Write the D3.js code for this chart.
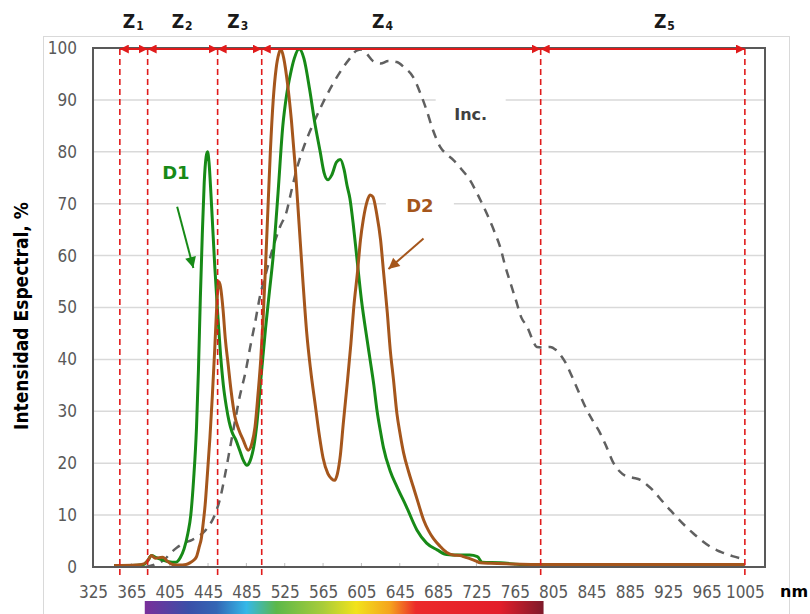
<!DOCTYPE html>
<html>
<head>
<meta charset="utf-8">
<script src="https://cdn.jsdelivr.net/npm/d3@7"></script>
<style>
  body { margin: 0; background: #fff; }
  svg { display: block; }
</style>
</head>
<body>
<div id="chart"></div>
<script>
const width = 810;
const height = 614;

// tick labels
const xTicks = [325, 365, 405, 445, 485, 525, 565, 605, 645, 685, 725, 765, 805, 845, 885, 925, 965, 1005];
const yTicks = [0, 10, 20, 30, 40, 50, 60, 70, 80, 90, 100];

// zone limits (nm) and labels
const zoneBounds = [353, 382, 455, 501, 792, 1005];
const zoneSubs = ["1", "2", "3", "4", "5"];
const zoneLabelNm = [367, 418, 476, 627, 921];

// visible spectrum strip (nm)
const spectrumRange = [379, 795];

// D1 spectrum [nm, %]
const seriesD1 = [
  [347, 0.3], [365, 0.3], [378, 0.5], [382, 1.2], [386, 2.2], [391, 1.8], [397, 1.4], [404, 1.0],
  [411, 0.9], [416, 1.8], [420, 3.5], [424, 6.5], [427, 10], [430, 17], [433, 27], [435, 38],
  [437, 52], [439, 64], [441, 74], [443, 79], [444.5, 80], [446, 78], [448, 72], [450, 65],
  [452, 58], [455, 49], [458, 41], [461, 35], [464, 31], [467, 28], [470, 26], [474, 24.5],
  [478, 22.5], [482, 20.5], [485.5, 19.6], [489, 20.5], [493, 23.5], [496, 27.7], [500, 36],
  [505, 46], [509, 53], [513, 60], [518, 72], [523, 85], [527, 91], [531, 95], [535, 98],
  [540, 99.8], [545, 98], [551, 92], [556, 86], [562, 80], [566, 76], [570, 74.6], [574, 75.5],
  [579, 78], [583, 78.5], [587, 76.5], [590, 73.5], [593, 71], [596.5, 66], [600, 60], [605, 51.5],
  [611, 43.7], [614, 40], [618, 35], [621, 30.5], [625, 26], [628, 23], [635, 18.5], [642, 15.5],
  [652, 11.6], [663, 7.1], [673, 4.6], [684, 3.3], [694, 2.4], [705, 2.3], [718, 2.3], [726, 2.0],
  [731, 0.9], [750, 0.8], [770, 0.5], [790, 0.4], [800, 0.3]
];

// D2 spectrum [nm, %]
const seriesD2 = [
  [347, 0.3], [370, 0.4], [378, 0.6], [382, 1.2], [386, 2.2], [390, 1.7], [394, 1.8], [398, 1.9],
  [402, 1.2], [408, 0.5], [415, 0.4], [422, 0.5], [426, 0.8], [430, 1.3], [433, 2.0], [436, 4],
  [438, 5.5], [440, 8.5], [442, 12], [444, 17], [447, 25], [449.5, 33], [452, 42], [454, 50],
  [456, 55], [458, 54], [460.7, 49.5], [463, 44], [466, 39], [469, 34], [473, 29], [477, 26.5],
  [481.6, 24.5], [487, 22.5], [491, 24], [494, 27], [497, 33], [500, 40], [502.5, 48], [505, 58],
  [507.7, 70], [510, 80], [513, 90], [516, 96], [519, 99], [521, 99.8], [524, 98], [528, 93],
  [532, 86], [536, 77], [540, 66], [544, 55], [548, 45], [552, 38], [557, 31], [561, 25.5],
  [565, 21], [570, 18], [574, 17], [577, 16.7], [580, 18], [583, 21.5], [586, 27.5], [590, 35],
  [594, 43], [597, 50], [601, 57], [604, 63], [607, 67], [611, 70.5], [614, 71.7], [617, 71.3],
  [621, 68], [625, 63], [628, 57], [632, 49], [635, 42], [638.5, 36], [642, 29.6], [645.5, 25.5],
  [649, 22], [654, 18.5], [659, 15.5], [664, 12.5], [670, 9], [675, 7], [680, 5.5], [687, 4],
  [694, 2.8], [701, 2.3], [708, 2.2], [713, 1.9], [718, 1.6], [724, 1.2], [729, 0.8], [740, 0.7],
  [760, 0.6], [800, 0.5], [900, 0.5], [1005, 0.5]
];

// incandescent reference [nm, %]
const seriesInc = [
  [380, 0], [390, 0.5], [400, 1.5], [406, 2.7], [413, 3.8], [420, 4.6], [428, 5.2], [436, 6],
  [442, 7], [448, 8.5], [453, 10.5], [458, 13.5], [463, 18], [468, 23], [473, 28], [478, 32.8],
  [484, 37.5], [489, 42.4], [494, 47], [499, 52], [506, 57], [513, 61.7], [520, 65.5], [527, 68.5],
  [532, 72.5], [538, 77], [546, 81.5], [555, 85.5], [565, 89.5], [575, 93], [585, 96], [593, 98],
  [600, 99.5], [605, 99.7], [610, 99], [617, 97.5], [625, 97], [633, 97.5], [642, 97.3], [650, 96.2],
  [659, 94.4], [666, 91.5], [673, 88], [680, 84], [687, 81], [694, 79.5], [701, 78.4], [710, 76.5],
  [718, 74.6], [727, 71.5], [736, 68], [744, 64.5], [750, 61.5], [755, 58], [760, 55], [766, 51.5],
  [772, 48], [778, 46.3], [783, 44], [788, 42.4], [795, 42.3], [802, 42.4], [808, 41.8], [814, 40.5],
  [819, 39], [823, 37.4], [831, 34], [840, 30.3], [847, 28], [854, 25.8], [861, 23], [868, 20],
  [874, 18.5], [880, 17.6], [888, 17.2], [896, 16.8], [903, 15.8], [909, 14.8], [916, 13.3], [924, 11.6],
  [931, 10.2], [937, 9], [944, 7.7], [951, 6.5], [960, 5.1], [969, 3.9], [976, 3.2], [983, 2.7],
  [992, 2.1], [1000, 1.7]
];

// annotations [nm, %]
const labelD1 = [411.5, 76];
const labelD2 = [666, 69.7];
const labelInc = [719, 87.2];
const arrowD1 = [[412.8, 69.4], [429.7, 57.6]];
const arrowD2 = [[669.8, 63.3], [633.2, 57.4]];

const green = "#178a17";
const brown = "#a5561c";
const red = "#e01b1b";
const tickFont = "'DejaVu Sans Condensed', 'DejaVu Sans', sans-serif";

const svg = d3.select("#chart")
    .append("svg")
    .attr("width", width)
    .attr("height", height);

const x = d3.scaleLinear().domain([325, 1026]).range([93, 765]);
const y = d3.scaleLinear().domain([0, 100]).range([567, 48]);

const defs = svg.append("defs");

// red double arrow heads
defs.append("marker")
    .attr("id", "redHead")
    .attr("viewBox", "0 0 10 10")
    .attr("refX", 10).attr("refY", 5)
    .attr("markerUnits", "userSpaceOnUse")
    .attr("markerWidth", 9).attr("markerHeight", 9)
    .attr("orient", "auto-start-reverse")
    .append("path").attr("d", "M0,0L10,5L0,10Z").attr("fill", red);

[["greenHead", green], ["brownHead", brown]].forEach(([id, c]) => {
    defs.append("marker")
        .attr("id", id)
        .attr("viewBox", "0 0 10 10")
        .attr("refX", 10).attr("refY", 5)
        .attr("markerUnits", "userSpaceOnUse")
        .attr("markerWidth", 14).attr("markerHeight", 11)
        .attr("orient", "auto")
        .append("path").attr("d", "M0,0L10,5L0,10Z").attr("fill", c);
});

const grad = defs.append("linearGradient").attr("id", "spectrum")
    .attr("x1", "0%").attr("x2", "100%");
[[0, "#7a2f9a"], [0.11, "#3a4fa8"], [0.18, "#3366b5"], [0.255, "#35b8e8"], [0.33, "#5cb84a"],
 [0.446, "#a8cc3a"], [0.53, "#f2e31b"], [0.615, "#f5a31e"], [0.68, "#ec2a2a"], [0.89, "#e31e2a"],
 [1, "#7e1a2a"]].forEach(([o, c]) => {
    grad.append("stop").attr("offset", o).attr("stop-color", c);
});

// outer chart border
svg.append("rect")
    .attr("x", 43.5).attr("y", 36.5)
    .attr("width", 746).attr("height", 600)
    .attr("fill", "none").attr("stroke", "#d9d9d9");

// gridlines
svg.append("g").selectAll("line")
    .data(yTicks.filter(d => d > 0 && d < 100))
    .join("line")
    .attr("x1", x.range()[0]).attr("x2", x.range()[1])
    .attr("y1", d => y(d)).attr("y2", d => y(d))
    .attr("stroke", "#d9d9d9").attr("stroke-width", 1.5);

// label boxes hide gridlines
[[labelInc, 70], [labelD2, 68]].forEach(([p, w]) => {
    svg.append("rect")
        .attr("x", x(p[0]) - w / 2).attr("y", y(p[1]) - 16)
        .attr("width", w).attr("height", 32)
        .attr("fill", "#fff");
});

// inside ticks on x axis
svg.append("g").selectAll("line")
    .data(xTicks)
    .join("line")
    .attr("x1", d => x(d)).attr("x2", d => x(d))
    .attr("y1", y(0) - 4).attr("y2", y(0))
    .attr("stroke", "#bfbfbf");

// axes labels
const xAxis = svg.append("g")
    .attr("transform", `translate(0,${y(0)})`)
    .call(d3.axisBottom(x).tickValues(xTicks).tickFormat(d3.format("d")).tickSize(0).tickPadding(19));
xAxis.select(".domain").remove();
xAxis.selectAll("text")
    .attr("font-family", tickFont).attr("font-size", 17).attr("fill", "#595959");

const yAxis = svg.append("g")
    .attr("transform", `translate(${x.range()[0]},0)`)
    .call(d3.axisLeft(y).tickValues(yTicks).tickSize(0).tickPadding(16));
yAxis.select(".domain").remove();
yAxis.selectAll("text")
    .attr("font-family", tickFont).attr("font-size", 17).attr("fill", "#595959");

// series
const line = d3.line()
    .x(d => x(d[0]))
    .y(d => y(d[1]))
    .curve(d3.curveMonotoneX);

svg.append("path")
    .datum(seriesInc)
    .attr("d", line)
    .attr("fill", "none")
    .attr("stroke", "#606060")
    .attr("stroke-width", 2.5)
    .attr("stroke-dasharray", "9,7");

svg.append("path")
    .datum(seriesD1)
    .attr("d", line)
    .attr("fill", "none")
    .attr("stroke", green)
    .attr("stroke-width", 3)
    .attr("stroke-linejoin", "round");

svg.append("path")
    .datum(seriesD2)
    .attr("d", line)
    .attr("fill", "none")
    .attr("stroke", brown)
    .attr("stroke-width", 3)
    .attr("stroke-linejoin", "round");

// plot frame
svg.append("rect")
    .attr("x", x.range()[0]).attr("y", y(100))
    .attr("width", x.range()[1] - x.range()[0])
    .attr("height", y(0) - y(100))
    .attr("fill", "none").attr("stroke", "#595959").attr("stroke-width", 2);

// zone dashed lines
svg.append("g").selectAll("line")
    .data(zoneBounds)
    .join("line")
    .attr("x1", d => x(d)).attr("x2", d => x(d))
    .attr("y1", 49).attr("y2", y(0) + 10)
    .attr("stroke", red).attr("stroke-width", 1.6)
    .attr("stroke-dasharray", "6,4");

// zone arrows
const zones = d3.pairs(zoneBounds);
svg.append("g").selectAll("line")
    .data(zones)
    .join("line")
    .attr("x1", d => x(d[0])).attr("x2", d => x(d[1]))
    .attr("y1", 49).attr("y2", 49)
    .attr("stroke", red).attr("stroke-width", 2)
    .attr("marker-start", "url(#redHead)")
    .attr("marker-end", "url(#redHead)");

// zone labels
const zl = svg.append("g").selectAll("text")
    .data(zoneSubs)
    .join("text")
    .attr("x", (d, i) => x(zoneLabelNm[i]))
    .attr("y", 28)
    .attr("text-anchor", "middle")
    .attr("font-family", tickFont)
    .attr("font-weight", "bold")
    .attr("font-size", 19)
    .attr("fill", "#1a1a1a");
zl.append("tspan").text("Z");
zl.append("tspan").attr("font-size", 12).attr("dy", 2).attr("dx", 1).text(d => d);

// annotations
function note(p, txt, color, size) {
    svg.append("text")
        .attr("x", x(p[0])).attr("y", y(p[1]))
        .attr("dy", "0.36em")
        .attr("text-anchor", "middle")
        .attr("font-family", "'DejaVu Sans', sans-serif")
        .attr("font-weight", "bold")
        .attr("font-size", size)
        .attr("fill", color)
        .text(txt);
}
note(labelD1, "D1", green, 18);
note(labelD2, "D2", brown, 18);
note(labelInc, "Inc.", "#404040", 16);

[[arrowD1, green, "greenHead"], [arrowD2, brown, "brownHead"]].forEach(([a, c, m]) => {
    svg.append("line")
        .attr("x1", x(a[0][0])).attr("y1", y(a[0][1]))
        .attr("x2", x(a[1][0])).attr("y2", y(a[1][1]))
        .attr("stroke", c).attr("stroke-width", 2)
        .attr("marker-end", `url(#${m})`);
});

// axis titles
svg.append("text")
    .attr("transform", "translate(28,316) rotate(-90)")
    .attr("text-anchor", "middle")
    .attr("font-family", tickFont)
    .attr("font-weight", "bold")
    .attr("font-size", 19)
    .attr("fill", "#000")
    .text("Intensidad  Espectral, %");

svg.append("text")
    .attr("x", 780).attr("y", 597)
    .attr("font-family", "'DejaVu Sans', sans-serif")
    .attr("font-weight", "bold")
    .attr("font-size", 16)
    .attr("fill", "#000")
    .text("nm");

// spectrum strip
svg.append("rect")
    .attr("x", x(spectrumRange[0])).attr("y", 601)
    .attr("width", x(spectrumRange[1]) - x(spectrumRange[0]))
    .attr("height", 14)
    .attr("fill", "url(#spectrum)");
</script>
</body>
</html>
